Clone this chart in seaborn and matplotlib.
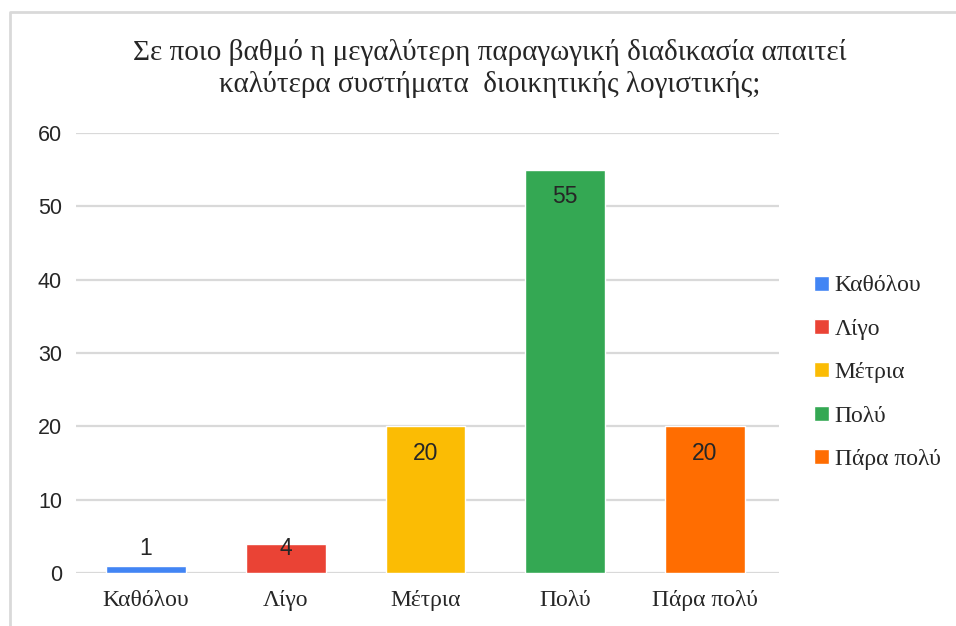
import pandas as pd
import numpy as np
import matplotlib
matplotlib.use("Agg")
import matplotlib.pyplot as plt
import seaborn as sns
from matplotlib.lines import Line2D

# =========================
# Data
# =========================
categories = ["Καθόλου", "Λίγο", "Μέτρια", "Πολύ", "Πάρα πολύ"]
values = [1, 4, 20, 55, 20]
colors = ["#4285F4", "#EA4335", "#FBBC04", "#34A853", "#FF6D01"]
title = "Σε ποιο βαθμό η μεγαλύτερη παραγωγική διαδικασία απαιτεί\nκαλύτερα συστήματα  διοικητικής λογιστικής;"

df = pd.DataFrame({"answer": categories, "count": values})

SERIF = ["Liberation Serif", "DejaVu Serif"]

sns.set_style("white")
plt.rcParams["font.family"] = ["Liberation Sans", "DejaVu Sans"]

fig = plt.figure(figsize=(9.56, 6.26), dpi=100)
ax = fig.add_axes([0.0795, 0.0847, 0.7355, 0.7028])

sns.barplot(data=df, x="answer", y="count", hue="answer",
            palette=colors, width=0.57, legend=True, ax=ax, saturation=1)

ax.set_ylim(0, 60)
ax.set_xlim(-0.5, 4.53)
ax.set_yticks(range(0, 61, 10))
ax.yaxis.grid(True, color="#d9d9d9", linewidth=1.6)
ax.set_axisbelow(True)
for s in ax.spines.values():
    s.set_visible(False)
ax.tick_params(axis="both", length=0)
ax.tick_params(axis="y", labelsize=15.5, pad=10)
ax.tick_params(axis="x", pad=12)
for lbl in ax.get_xticklabels():
    lbl.set_fontfamily(SERIF)
    lbl.set_fontsize(17)
ax.set_xlabel("")
ax.set_ylabel("")

# bar labels (inside end, pushed up for short bars)
for i, v in enumerate(values):
    ax.text(i, max(v - 3.7, 3.3), str(v), ha="center", va="center", fontsize=16.5)

# legend
sns.move_legend(ax, "center left", bbox_to_anchor=(1.02, 0.455), frameon=False,
                title=None, handlelength=0.6, handleheight=0.6,
                handletextpad=0.25, labelspacing=0.95,
                prop={"family": SERIF, "size": 17})

fig.text(0.512, 0.891, title, ha="center", va="center", fontsize=21,
         fontfamily=SERIF, linespacing=1.25)

# outer frame (top and left only visible)
x0 = 10 / 956
y0 = 1 - 12 / 626
fig.add_artist(Line2D([x0, x0, 1.0], [0.0, y0, y0], color="#d9d9d9",
                      linewidth=2, transform=fig.transFigure))

fig.savefig("out.png", dpi=100)
